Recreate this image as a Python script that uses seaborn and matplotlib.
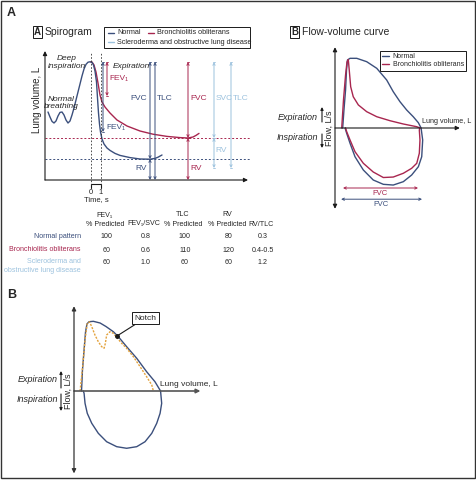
import numpy as np
import pandas as pd
import matplotlib
matplotlib.use("Agg")
import matplotlib.pyplot as plt
from matplotlib.patches import Rectangle
import seaborn as sns

sns.set_theme(style="white")
plt.rcParams["font.family"] = ["Liberation Sans", "DejaVu Sans"]
plt.rcParams["font.size"] = 6

NAVY = "#3b4f7c"
CRIMSON = "#a8264f"
LIGHT = "#9cc2de"
ORANGE = "#e3a23c"

# --- Spirogram (time in s, volume in L) ---
breath_t = [-4.3, -4.1, -3.9, -3.7, -3.5, -3.3, -3.1, -2.9, -2.7, -2.5, -2.3, -2.1, -1.9,
            -1.7, -1.5, -1.3, -1.1, -0.9, -0.7, -0.5, -0.3, -0.1, 0.0]
breath_v = [3.4, 3.15, 2.93, 2.85, 2.95, 3.2, 3.38, 3.4, 3.25, 3.0, 2.85, 2.95, 3.25,
            3.6, 4.0, 4.4, 4.8, 5.2, 5.55, 5.78, 5.89, 5.91, 5.9]
normal_t = [0.0, 0.1, 0.25, 0.4, 0.55, 0.65, 0.75, 0.85, 0.95, 1.1, 1.3, 1.6, 1.9, 2.4, 2.9,
            3.9, 4.9, 5.9, 6.4, 6.7, 7.1]
normal_v = [5.9, 5.88, 5.75, 5.45, 4.9, 4.1, 3.35, 2.8, 2.4, 2.05, 1.8, 1.6, 1.48, 1.33, 1.23,
            1.12, 1.05, 1.04, 1.08, 1.14, 1.25]
bo_t = [0.0, 0.1, 0.3, 0.5, 0.7, 0.9, 1.1, 1.4, 1.9, 2.6, 3.6, 4.9, 6.2, 7.6, 8.9, 9.7,
        10.2, 10.5, 10.8]
bo_v = [5.9, 5.9, 5.75, 5.4, 4.85, 4.25, 3.9, 3.65, 3.35, 3.0, 2.7, 2.45, 2.29, 2.18, 2.12,
        2.1, 2.15, 2.23, 2.33]
tlc = 5.9
rv_normal = 1.05
rv_bo = 2.1
rv_ssc = 0.6

# --- Flow-volume curve (volume in L, flow in L/s) ---
fv_normal_x = [0.48, 0.56, 0.66, 0.72, 0.78, 0.94, 1.36, 1.98, 2.61, 3.23, 3.64, 4.06, 4.48,
               4.89, 5.21, 5.38, 5.48, 5.42, 5.21, 4.79, 4.27, 3.64, 3.02, 2.39, 1.77, 1.25,
               0.94, 0.73, 0.63]
fv_normal_y = [0, 2.25, 4.75, 7.25, 8.5, 8.71, 8.71, 8.29, 7.46, 6.0, 4.54, 3.29, 2.25, 1.41,
               0.66, 0, -1.5, -3.59, -4.84, -5.88, -6.71, -7.13, -7.04, -6.5, -5.25, -3.59,
               -1.91, -0.66, 0]
fv_bo_x = [0.42, 0.53, 0.66, 0.75, 0.83, 0.89, 0.98, 1.14, 1.46, 1.98, 2.61, 3.44, 4.27, 5.11,
           5.31, 5.27, 5.31, 5.27, 5.11, 4.79, 4.27, 3.64, 3.02, 2.39, 1.77, 1.25, 0.94, 0.73,
           0.66]
fv_bo_y = [0, 3.5, 6.63, 8.25, 8.56, 7.25, 5.16, 3.91, 2.88, 2.04, 1.41, 0.91, 0.5, 0.16, 0,
           -0.25, -1.5, -3.16, -4.41, -5.04, -5.66, -6.13, -6.19, -5.5, -4.41, -2.96, -1.5,
           -0.46, 0]
fvc_normal = (0.38, 5.44)
fvc_bo = (0.5, 5.19)

# --- Notch flow-volume curve ---
notch_loop_x = [0.47, 0.53, 0.63, 0.72, 0.81, 0.94, 1.21, 1.63, 2.0, 2.46, 2.77, 3.29, 3.92,
                4.54, 5.06, 5.41, 5.48, 5.38, 5.17, 4.86, 4.44, 3.92, 3.29, 2.67, 2.04, 1.52,
                1.11, 0.83, 0.69, 0.63, 0.58]
notch_loop_y = [0, 2.63, 5.13, 7.38, 8.38, 8.66, 8.71, 8.5, 8.06, 7.41, 6.79, 5.54, 4.09,
                2.41, 1.16, 0, -1.54, -2.79, -4.04, -5.29, -6.34, -6.96, -7.16, -6.96, -6.34,
                -5.29, -4.04, -2.79, -1.54, -0.29, 0]
notch_exp_x = [0.38, 0.54, 0.69, 0.83, 0.97, 1.11, 1.31, 1.52, 1.73, 1.88, 1.96, 2.04, 2.25,
               2.46, 2.67, 2.98, 3.29, 3.71, 4.13, 4.54, 4.86, 4.96]
notch_exp_y = [0, 3.04, 6.38, 8.46, 8.63, 8.04, 7.0, 6.16, 5.54, 5.34, 5.96, 7.0, 7.41, 7.21,
               6.71, 5.96, 5.34, 4.29, 3.04, 1.79, 0.75, 0]
notch_point = (2.69, 6.88)

# --- Table ---
table_cols = ["FEV₁\n% Predicted", "FEV₁/SVC", "TLC\n% Predicted", "RV\n% Predicted", "RV/TLC"]
table_rows = ["Normal pattern", "Bronchiolitis obliterans",
              "Scleroderma and\nobstructive lung disease"]
table_vals = [["100", "0.8", "100", "80", "0.3"],
              ["60", "0.6", "110", "120", "0.4-0.5"],
              ["60", "1.0", "60", "60", "1.2"]]
row_colors = [NAVY, CRIMSON, LIGHT]

W, H = 477, 480
fig = plt.figure(figsize=(W / 100, H / 100), dpi=100)


def box(x0, y0, x1, y1):
    return [x0 / W, 1 - y1 / H, (x1 - x0) / W, (y1 - y0) / H]


ov = fig.add_axes([0, 0, 1, 1])
ov.set_xlim(0, W)
ov.set_ylim(H, 0)
ov.axis("off")
ov.add_patch(Rectangle((1, 1), W - 3, H - 3, fill=False, lw=1.0, ec="#333333"))


def arrow(ax, x0, y0, x1, y1, style="-|>", color="k", lw=0.8, ms=6):
    ax.annotate("", xy=(x1, y1), xytext=(x0, y0),
                arrowprops=dict(arrowstyle=style, color=color, lw=lw, mutation_scale=ms,
                                shrinkA=0, shrinkB=0))


def span(ax, x, y0, y1, color, cap=0.12):
    arrow(ax, x, y0, x, y1, style="<->", color=color, lw=0.7, ms=4)
    ax.plot([x - cap, x + cap], [y0, y0], color=color, lw=0.6)
    ax.plot([x - cap, x + cap], [y1, y1], color=color, lw=0.6)


def boxed_title(x, y, letter, title):
    ov.text(x, y, letter, fontsize=7, fontweight="bold", ha="left", va="center",
            bbox=dict(boxstyle="square,pad=0.1", fc="white", ec="k", lw=0.7))
    ov.text(x + 11, y, title, fontsize=7.5, ha="left", va="center")


# ---------------- Panel A: spirogram ----------------
ov.text(7, 13, "A", fontsize=9, fontweight="bold", va="center")
boxed_title(34, 32, "A", "Spirogram")

ov.add_patch(Rectangle((104, 27), 146, 21, fill=False, lw=0.7, ec="k"))
for (lx, ly, c, lab) in [(108, 33, NAVY, "Normal"), (148, 33, CRIMSON, "Bronchiolitis obliterans"),
                         (108, 42, LIGHT, "Scleroderma and obstructive lung disease")]:
    ov.plot([lx, lx + 6], [ly, ly], color=c, lw=1.0)
    ov.text(lx + 9, ly, lab, fontsize=5.2, va="center", ha="left")

ax = fig.add_axes(box(45, 50, 250, 180))
ax.set_xlim(-4.6, 15.9)
ax.set_ylim(0, 6.5)
ax.axis("off")

sns.lineplot(x=breath_t, y=breath_v, sort=False, estimator=None, color=NAVY, lw=1.0, ax=ax)
sns.lineplot(x=bo_t, y=bo_v, sort=False, estimator=None, color=CRIMSON, lw=1.0, ax=ax)
sns.lineplot(x=normal_t, y=normal_v, sort=False, estimator=None, color=NAVY, lw=1.0, ax=ax)

ax.axhline(rv_bo, color=CRIMSON, ls=(0, (2, 2)), lw=0.7)
ax.axhline(rv_normal, color=NAVY, ls=(0, (2, 2)), lw=0.7)
for t in [0, 1]:
    ax.plot([t, t], [-0.25, 6.4], color="#333333", ls=(0, (2, 2)), lw=0.6, clip_on=False)
arrow(ax, -4.6, 0, 15.7, 0, ms=6)
arrow(ax, -4.6, 0, -4.6, 6.45, ms=6)

span(ax, 1.2, tlc, 2.4, NAVY)
span(ax, 1.6, tlc, 4.2, CRIMSON)
span(ax, 5.9, tlc, rv_normal, NAVY)
span(ax, 5.9, rv_normal, 0, NAVY)
span(ax, 6.4, tlc, 0, NAVY)
span(ax, 9.7, tlc, rv_bo, CRIMSON)
span(ax, 9.7, rv_bo, 0, CRIMSON)
span(ax, 12.3, tlc, rv_bo, LIGHT)
span(ax, 12.3, rv_bo, rv_ssc, LIGHT)
span(ax, 14.0, tlc, rv_ssc, LIGHT)

ax.text(1.8, 5.1, "FEV₁", color=CRIMSON, fontsize=6, va="center")
ax.text(1.5, 2.65, "FEV₁", color=NAVY, fontsize=6, va="center")
ax.text(5.6, 4.1, "FVC", color=NAVY, fontsize=6, va="center", ha="right")
ax.text(6.6, 4.1, "TLC", color=NAVY, fontsize=6, va="center")
ax.text(5.6, 0.55, "RV", color=NAVY, fontsize=6, va="center", ha="right")
ax.text(9.9, 4.1, "FVC", color=CRIMSON, fontsize=6, va="center")
ax.text(9.9, 0.55, "RV", color=CRIMSON, fontsize=6, va="center")
ax.text(12.45, 4.1, "SVC", color=LIGHT, fontsize=6, va="center")
ax.text(14.2, 4.1, "TLC", color=LIGHT, fontsize=6, va="center", clip_on=False)
ax.text(12.45, 1.5, "RV", color=LIGHT, fontsize=6, va="center")
ax.text(-2.4, 5.88, "Deep\ninspiration", fontsize=6, style="italic", ha="center", va="center",
        linespacing=1.1)
ax.text(-3.0, 3.85, "Normal\nbreathing", fontsize=6, style="italic", ha="center", va="center",
        linespacing=1.1)
ax.text(2.2, 5.7, "Expiration", fontsize=6, style="italic", va="center")

ov.text(37, 100, "Lung volume, L", rotation=90, fontsize=7, ha="center", va="center")
ov.plot([91, 91, 101, 101], [188, 184, 184, 188], color="k", lw=0.8)
ov.text(91, 192, "0", fontsize=5.5, ha="center", va="center")
ov.text(101, 192, "1", fontsize=5.5, ha="center", va="center")
ov.text(96, 200, "Time, s", fontsize=5.5, ha="center", va="center")

# ---------------- Table ----------------
col_x = [105, 144, 183, 227, 261]
tfs = 5.1
for cx, head in zip(col_x, table_cols):
    lines = head.split("\n")
    if len(lines) == 2:
        ov.text(cx, 215, lines[0], fontsize=tfs, ha="center", va="center")
    ov.text(cx, 224, lines[-1], fontsize=tfs, ha="center", va="center")
row_y = [237, 250, 262]
for ry, lab, c, vals in zip(row_y, table_rows, row_colors, table_vals):
    ov.text(81, ry - 4, lab, color=c, fontsize=tfs, ha="right", va="top", linespacing=1.35)
    for cx, v in zip(col_x, vals):
        ov.text(cx + 2, ry, v, fontsize=tfs, ha="center", va="center")

# ---------------- Panel B: flow-volume curve ----------------
boxed_title(291, 32, "B", "Flow-volume curve")
bx = fig.add_axes(box(335, 45, 465, 212))
bx.set_xlim(0, 8.125)
bx.set_ylim((128 - 212) / 8, (128 - 45) / 8)
bx.axis("off")
sns.lineplot(x=fv_normal_x, y=fv_normal_y, sort=False, estimator=None, color=NAVY, lw=1.0,
             ax=bx, label="Normal")
sns.lineplot(x=fv_bo_x, y=fv_bo_y, sort=False, estimator=None, color=CRIMSON, lw=1.0,
             ax=bx, label="Bronchiolitis obliterans")
arrow(bx, 0, 0, 7.8, 0, ms=6)
arrow(bx, 0, -10.1, 0, 10.1, style="<|-|>", ms=6)
bx.annotate("", xy=(fvc_bo[1], -7.5), xytext=(fvc_bo[0], -7.5),
            arrowprops=dict(arrowstyle="<->", color=CRIMSON, lw=0.7, mutation_scale=4,
                            shrinkA=0, shrinkB=0))
bx.annotate("", xy=(fvc_normal[1], -8.9), xytext=(fvc_normal[0], -8.9),
            arrowprops=dict(arrowstyle="<->", color=NAVY, lw=0.7, mutation_scale=4,
                            shrinkA=0, shrinkB=0))
bx.text(2.8, -8.2, "FVC", color=CRIMSON, fontsize=5.5, ha="center", va="center")
bx.text(2.9, -9.55, "FVC", color=NAVY, fontsize=5.5, ha="center", va="center")
bx.text(5.45, 0.8, "Lung volume, L", fontsize=5.2, va="center", clip_on=False)
leg = bx.legend(loc="upper left", bbox_to_anchor=(0.32, 0.985), fontsize=5.0, handlelength=1,
                handletextpad=0.5, borderpad=0.3, labelspacing=0.2, fancybox=False,
                framealpha=1)
leg.get_frame().set_edgecolor("k")
leg.get_frame().set_linewidth(0.7)

ov.text(318, 117, "Expiration", fontsize=6.5, style="italic", ha="right", va="center")
ov.text(318, 137, "Inspiration", fontsize=6.5, style="italic", ha="right", va="center")
arrow(ov, 322, 122, 322, 107, ms=4, lw=0.8)
arrow(ov, 322, 134, 322, 148, ms=4, lw=0.8)
ov.text(329, 128, "Flow, L/s", rotation=90, fontsize=6.5, ha="center", va="center")

# ---------------- Bottom B: notch ----------------
ov.text(7, 295, "B", fontsize=9, fontweight="bold", va="center")
cx_ = fig.add_axes(box(74, 305, 210, 475))
cx_.set_xlim(0, (210 - 74) / 16)
cx_.set_ylim((391 - 475) / 8, (391 - 305) / 8)
cx_.axis("off")
sns.lineplot(x=notch_loop_x, y=notch_loop_y, sort=False, estimator=None, color=NAVY, lw=1.0,
             ax=cx_)
cx_.plot(notch_exp_x, notch_exp_y, color=ORANGE, lw=1.0, ls=(0, (1.5, 1)))
arrow(cx_, 0, 0, 7.9, 0, ms=6, color="#555555", lw=1.2)
arrow(cx_, 0, -10.3, 0, 10.6, style="<|-|>", ms=6, lw=0.9, color="#333333")
cx_.plot(*notch_point, "o", color="k", ms=2.5)
cx_.annotate("Notch", xy=notch_point, xytext=(4.44, 9.1), fontsize=6, ha="center", va="center",
             bbox=dict(boxstyle="square,pad=0.3", fc="white", ec="k", lw=0.7),
             arrowprops=dict(arrowstyle="-", color="k", lw=0.8, shrinkA=0, shrinkB=1))
cx_.text(5.35, 0.75, "Lung volume, L", fontsize=6, va="center", clip_on=False)

ov.text(58, 380, "Expiration", fontsize=6.5, style="italic", ha="right", va="center")
ov.text(58, 400, "Inspiration", fontsize=6.5, style="italic", ha="right", va="center")
arrow(ov, 61, 388, 61, 371, ms=4, lw=0.8)
arrow(ov, 61, 394, 61, 411, ms=4, lw=0.8)
ov.text(68, 391, "Flow, L/s", rotation=90, fontsize=6.5, ha="center", va="center")

fig.savefig("out.png", dpi=100)
plt.close(fig)
